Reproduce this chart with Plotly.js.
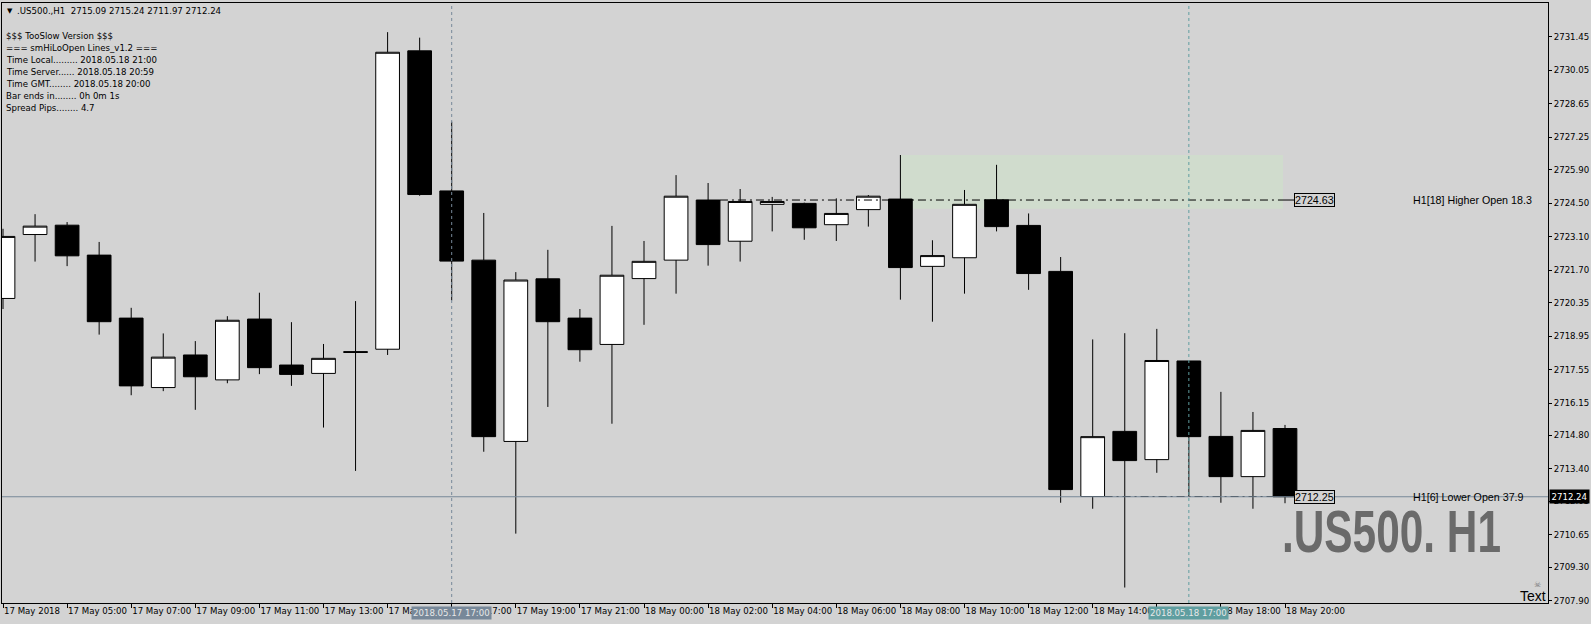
<!DOCTYPE html>
<html><head><meta charset="utf-8">
<script src="https://cdn.plot.ly/plotly-3.0.1.min.js"></script>
<style>html,body{margin:0;padding:0;background:#d3d3d3;overflow:hidden}#chart{width:1591px;height:624px}</style>
</head><body><div id="chart"></div>
<script>
// ---- data ----
const symbol = ".US500.,H1";
const times = ["17 May 03:00","17 May 04:00","17 May 05:00","17 May 06:00","17 May 07:00","17 May 08:00","17 May 09:00","17 May 10:00","17 May 11:00","17 May 12:00","17 May 13:00","17 May 14:00","17 May 15:00","17 May 16:00","17 May 17:00","17 May 18:00","17 May 19:00","17 May 20:00","17 May 21:00","17 May 22:00","18 May 00:00","18 May 01:00","18 May 02:00","18 May 03:00","18 May 04:00","18 May 05:00","18 May 06:00","18 May 07:00","18 May 08:00","18 May 09:00","18 May 10:00","18 May 11:00","18 May 12:00","18 May 13:00","18 May 14:00","18 May 15:00","18 May 16:00","18 May 17:00","18 May 18:00","18 May 19:00","18 May 20:00"];
const open  = [2720.52,2723.19,2723.58,2722.33,2719.70,2716.80,2718.16,2717.12,2719.66,2717.74,2717.39,2718.30,2718.40,2730.86,2725.01,2722.12,2714.55,2721.34,2719.70,2718.60,2721.35,2722.12,2724.63,2722.91,2724.45,2724.49,2723.60,2724.23,2724.67,2721.86,2722.22,2724.64,2723.57,2721.65,2712.25,2714.97,2713.79,2717.91,2714.76,2713.08,2715.09];
const high  = [2723.43,2724.04,2723.71,2722.88,2720.13,2719.06,2718.74,2719.78,2720.76,2719.53,2718.62,2720.41,2731.64,2731.41,2727.90,2724.09,2721.62,2722.55,2720.08,2723.55,2722.92,2725.67,2725.34,2725.09,2724.76,2724.52,2724.70,2724.84,2726.51,2722.95,2725.05,2726.10,2724.07,2722.25,2718.81,2719.07,2719.25,2717.91,2716.62,2715.78,2715.24];
const low   = [2720.08,2722.06,2721.87,2719.01,2716.48,2716.65,2715.87,2716.98,2717.36,2716.87,2715.13,2713.32,2718.16,2724.81,2720.44,2714.12,2710.70,2715.99,2717.88,2715.29,2719.42,2720.72,2721.89,2722.06,2723.32,2722.97,2722.92,2723.52,2720.47,2719.55,2720.72,2723.32,2720.88,2711.99,2711.74,2708.45,2713.24,2712.25,2711.99,2711.74,2711.97];
const close = [2723.11,2723.54,2722.30,2719.55,2716.87,2718.07,2717.25,2719.61,2717.63,2717.35,2718.02,2718.27,2730.80,2724.86,2722.08,2714.75,2721.29,2719.55,2718.38,2721.49,2722.07,2724.79,2722.77,2724.57,2724.57,2723.47,2724.07,2724.79,2721.81,2722.31,2724.45,2723.52,2721.56,2712.54,2714.75,2713.75,2717.93,2714.75,2713.08,2715.01,2712.24];

const tickTimes = ["17 May 03:00","17 May 05:00","17 May 07:00","17 May 09:00","17 May 11:00","17 May 13:00","17 May 15:00","17 May 17:00","17 May 19:00","17 May 21:00","18 May 00:00","18 May 02:00","18 May 04:00","18 May 06:00","18 May 08:00","18 May 10:00","18 May 12:00","18 May 14:00","18 May 16:00","18 May 18:00","18 May 20:00"];
const tickText  = ["17 May 2018","17 May 05:00","17 May 07:00","17 May 09:00","17 May 11:00","17 May 13:00","17 May 15:00","17 May 17:00","17 May 19:00","17 May 21:00","18 May 00:00","18 May 02:00","18 May 04:00","18 May 06:00","18 May 08:00","18 May 10:00","18 May 12:00","18 May 14:00","18 May 16:00","18 May 18:00","18 May 20:00"];
const priceTicks = [2731.45,2730.05,2728.65,2727.25,2725.90,2724.50,2723.10,2721.70,2720.35,2718.95,2717.55,2716.15,2714.80,2713.40,2712.05,2710.65,2709.30,2707.90];

const infoLines = ["$$$ TooSlow Version $$$","=== smHiLoOpen Lines_v1.2 ===","Time Local......... 2018.05.18 21:00","Time Server...... 2018.05.18 20:59","Time GMT........ 2018.05.18 20:00","Bar ends in........ 0h 0m 1s","Spread Pips........ 4.7"];
const bidPrice = 2712.24;
const higherOpen = {bar: "18 May 02:00", price: 2724.63, label: "H1[18] Higher Open 18.3"};
const lowerOpen  = {bar: "18 May 14:00", price: 2712.25, label: "H1[6] Lower Open 37.9"};
const zone = {from: "18 May 08:00", to: "18 May 20:00", top: 2726.51, bottom: 2724.27};
const crossTimes = [{t: "17 May 17:00", label: "2018.05.17 17:00", color: "#778899"},
                    {t: "18 May 17:00", label: "2018.05.18 17:00", color: "#5f9ea0"}];
const watermark = ".US500. H1";

// ---- geometry ----
const W = 1591, H = 624;
const M = {l: 2, r: 43, t: 3, b: 21};
const PW = W - M.l - M.r, PH = H - M.t - M.b;
const barPx = 32.05;
const xmin = -1 / barPx, xmax = xmin + PW / barPx;
const ymin = 2707.804, ymax = 2732.857;
const pxX = p => (p - M.l) / PW;          // pixel -> paper x
const pxY = p => (H - M.b - p) / PH;      // pixel -> paper y
const pxIdx = p => xmin + (p - M.l) / barPx;
const idx = times.map((t, i) => i);
const iOf = t => times.indexOf(t);
const half = 0.37;
const smallFont = {family: "DejaVu Sans", size: 8.6, color: "#000"};
const armFont = {family: "Liberation Sans, Arial, sans-serif", size: 10.7, color: "#000"};

const trace = {
  type: "candlestick", x: idx, open: open, high: high, low: low, close: close,
  increasing: {line: {color: "#000", width: 1}, fillcolor: "#ffffff"},
  decreasing: {line: {color: "#000", width: 1}, fillcolor: "#000000"},
  whiskerwidth: 0, hoverinfo: "skip", showlegend: false
};

const labelEnd = pxIdx(1283), boxStart = pxIdx(1294);
const shapes = [
  {type: "rect", layer: "below", xref: "x", yref: "y", x0: iOf(zone.from), x1: labelEnd, y0: zone.bottom, y1: zone.top, fillcolor: "#d0dccd", line: {width: 0}},
  {type: "line", xref: "x", yref: "y", x0: iOf(higherOpen.bar) + half, x1: labelEnd, y0: higherOpen.price, y1: higherOpen.price, line: {color: "#000", width: 1, dash: "8px,4px,2px,4px"}},
  {type: "line", xref: "x", yref: "y", x0: labelEnd, x1: boxStart, y0: higherOpen.price, y1: higherOpen.price, line: {color: "#000", width: 1}},
  {type: "line", xref: "x", yref: "y", x0: iOf(lowerOpen.bar) + half, x1: labelEnd, y0: lowerOpen.price, y1: lowerOpen.price, line: {color: "#000", width: 1, dash: "8px,4px,2px,4px"}},
  {type: "line", xref: "x", yref: "y", x0: labelEnd, x1: boxStart, y0: lowerOpen.price, y1: lowerOpen.price, line: {color: "#000", width: 1}},
  {type: "line", xref: "paper", yref: "y", x0: 0, x1: 1, y0: bidPrice, y1: bidPrice, line: {color: "#778899", width: 1}}
];
crossTimes.forEach(c => shapes.push({type: "line", xref: "x", yref: "paper", x0: iOf(c.t), x1: iOf(c.t), y0: 0, y1: 1, line: {color: c.color, width: 1, dash: "3px,3px"}}));

const last = open.length - 1;
const annotations = [
  {xref: "paper", yref: "paper", x: pxX(10), y: pxY(11), text: "▼", showarrow: false, xanchor: "center", yanchor: "middle", font: {family: "DejaVu Sans", size: 7, color: "#000"}},
  {xref: "paper", yref: "paper", x: pxX(15), y: pxY(11), text: symbol + "&nbsp; " + [open[last], high[last], low[last], close[last]].map(v => v.toFixed(2)).join(" "), showarrow: false, xanchor: "left", yanchor: "middle", font: smallFont},
  {xref: "paper", yref: "y", x: pxX(1411), y: higherOpen.price, text: higherOpen.label, showarrow: false, xanchor: "left", yanchor: "middle", font: armFont},
  {xref: "paper", yref: "y", x: pxX(1411), y: lowerOpen.price, text: lowerOpen.label, showarrow: false, xanchor: "left", yanchor: "middle", font: armFont},
  {xref: "paper", yref: "y", x: pxX(1294), y: higherOpen.price, text: higherOpen.price.toFixed(2), showarrow: false, xanchor: "left", yanchor: "middle", font: armFont, bgcolor: "#d3d3d3", bordercolor: "#000", borderwidth: 1, borderpad: 0},
  {xref: "paper", yref: "y", x: pxX(1294), y: lowerOpen.price, text: lowerOpen.price.toFixed(2), showarrow: false, xanchor: "left", yanchor: "middle", font: armFont, bgcolor: "#d3d3d3", bordercolor: "#000", borderwidth: 1, borderpad: 0},
  {xref: "paper", yref: "y", x: pxX(1549), y: bidPrice, text: bidPrice.toFixed(2), showarrow: false, xanchor: "left", yanchor: "middle", font: {family: "DejaVu Sans", size: 8.6, color: "#fff"}, bgcolor: "#000", borderpad: 1.5},
  {xref: "paper", yref: "paper", x: pxX(1280), y: pxY(532), text: "<b>" + watermark + "</b>", showarrow: false, xanchor: "left", yanchor: "middle", font: {family: "Liberation Sans, Arial, sans-serif", size: 59, color: "#6a6a6a"}},
  {xref: "paper", yref: "paper", x: pxX(1548), y: pxY(596), text: "Text", showarrow: false, xanchor: "right", yanchor: "middle", font: {family: "Liberation Sans, Arial, sans-serif", size: 14, color: "#000"}},
  {xref: "paper", yref: "paper", x: pxX(1537), y: pxY(584), text: "☠", showarrow: false, xanchor: "center", yanchor: "middle", font: {family: "DejaVu Sans", size: 8, color: "#777"}}
];
infoLines.forEach((s, i) => annotations.push({xref: "paper", yref: "paper", x: pxX(4), y: pxY(36 + i * 12), text: s, showarrow: false, xanchor: "left", yanchor: "middle", font: smallFont}));
crossTimes.forEach(c => annotations.push({xref: "x", yref: "paper", x: iOf(c.t), y: pxY(613), text: c.label, showarrow: false, xanchor: "center", yanchor: "middle", font: {family: "DejaVu Sans", size: 8.6, color: "#e8e8e8"}, bgcolor: c.color, borderpad: 1}));

const layout = {
  width: W, height: H, margin: M,
  paper_bgcolor: "#d3d3d3", plot_bgcolor: "#d3d3d3",
  showlegend: false, dragmode: false,
  xaxis: {type: "linear", range: [xmin, xmax], rangeslider: {visible: false}, showgrid: false, zeroline: false,
    tickvals: tickTimes.map(iOf), ticktext: tickText, tickangle: 0, ticks: "outside", ticklen: 4, tickcolor: "#000",
    ticklabelposition: "outside right", tickfont: smallFont, showline: true, linecolor: "#000", linewidth: 1, mirror: true, fixedrange: true},
  yaxis: {side: "right", range: [ymin, ymax], showgrid: false, zeroline: false,
    tickvals: priceTicks, ticktext: priceTicks.map(v => v.toFixed(2)), ticks: "outside", ticklen: 3, tickcolor: "#000",
    tickfont: smallFont, showline: true, linecolor: "#000", linewidth: 1, mirror: true, fixedrange: true},
  boxgap: 0.26, boxgroupgap: 0,
  shapes: shapes, annotations: annotations
};
Plotly.newPlot("chart", [trace], layout, {displayModeBar: false, staticPlot: true}).then(() => {
  // condense the big watermark horizontally, as in the reference
  document.querySelectorAll("#chart .annotation-text").forEach(el => {
    if (el.textContent.trim() === watermark) {
      const bb = el.getBBox();
      const sx = 219 / bb.width;
      el.setAttribute("transform", "translate(" + bb.x + ",0) scale(" + sx + ",1) translate(" + (-bb.x) + ",0)");
    }
  });
});
</script></body></html>
